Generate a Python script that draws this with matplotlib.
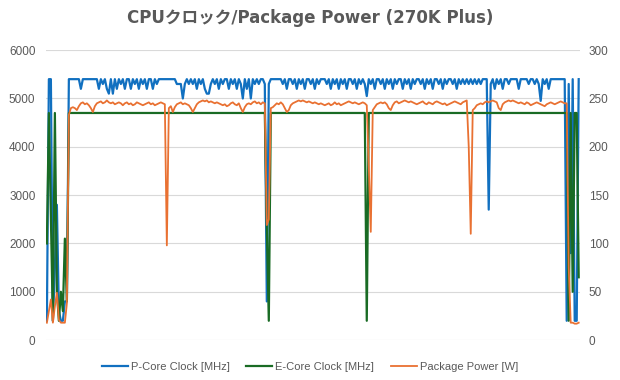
import matplotlib
matplotlib.use("Agg")
import matplotlib.pyplot as plt
import numpy as np

# P-Core clock [MHz]
p_core = [
    400, 5400, 5400, 400, 1500, 2800, 600, 400, 400, 800, 800, 5400,
    5400, 5400, 5400, 5400, 5400, 5200, 5400, 5400, 5400, 5400, 5400, 5400, 5400, 5400,
    5200, 5400, 5300, 5400, 5200, 5100, 5400, 5100, 5400, 5200,
    5400, 5300, 5400, 5200, 5400, 5400, 5200, 5400, 5300, 5400,
    5200, 5400, 5300, 5400, 5200, 5400, 5400, 5200, 5400, 5300, 5400,
    5400, 5400, 5400, 5400, 5400, 5400, 5400, 5400,
    5300, 5300, 5300, 5000, 5300, 5400, 5300,
    5400, 5300, 5400, 5200, 5400, 5300, 5400, 5200, 5100, 5100,
    5300, 5400, 5300, 5400, 5200, 5400, 5300, 5400, 5400, 5200,
    5400, 5300, 5400, 5200, 5400,
    5300, 5000, 5400, 5200, 5400, 5000,
    5400, 5300, 5400, 5300, 5400, 5400, 5300,
    800, 5300,
    5400, 5400, 5400, 5400, 5400, 5400,
    5300, 5400, 5200, 5400, 5400, 5300, 5400, 5200, 5400, 5300,
    5400, 5200, 5400, 5400, 5300, 5400, 5200, 5400, 5300, 5400,
    5400, 5400, 5300, 5400, 5200, 5400, 5300, 5400, 5200, 5400,
    5300, 5400, 5200, 5400, 5400, 5300, 5400, 5200, 5400, 5300,
    5400, 5300,
    5050,
    5400, 5300, 5400, 5200, 5400, 5400, 5300, 5400, 5200, 5400,
    5300, 5400, 5200, 5400, 5300, 5400, 5400, 5200, 5400, 5300,
    5400, 5200, 5400, 5300, 5400, 5400, 5300, 5400, 5200, 5400,
    5300, 5400, 5200, 5400, 5400, 5300, 5400, 5200, 5400, 5300,
    5400, 5400, 5300, 5400, 5200, 5400, 5300, 5400, 5300, 5400,
    5300, 5400, 5300, 5400, 5300, 5400, 5300, 5400, 5400, 5400,
    2700,
    5300, 5400, 5200, 5400, 5300, 5400, 5200, 5400, 5400, 5300,
    5400, 5400, 5400, 5400, 5200, 5400, 5400, 5400, 5400, 5300,
    5400, 5400, 5300, 5400, 5300,
    4950,
    5400, 5300, 5400, 5200, 5400,
    5400, 5400, 5400, 5400, 5400, 5400, 5400,
    400, 5300, 1800, 5400, 400, 400, 5400,
]

# E-Core clock [MHz]
e_core = (
    [2000, 4700, 2500, 400, 4700, 1000, 400, 1000, 600, 2100, 800, 4700]
    + [4700] * 98
    + [2300, 400]
    + [4700] * 48
    + [400]
    + [4700] * 100
    + [400, 4700, 1000, 4700, 4700, 1300]
)

# Package power [W]
package_power = [
    18, 30, 42, 18, 35, 49, 21, 18, 18, 18, 38, 233,
    240, 241, 240, 238, 242, 245, 246, 244, 245, 243, 240, 236, 242, 245,
    246, 247, 245, 246, 248, 246, 245, 246, 244, 245,
    246, 245, 243, 245, 246, 244, 245, 243, 244, 246,
    245, 244, 243, 244, 245, 246, 244, 245, 243, 244,
    245, 246, 245,
    244, 98, 240, 242, 236, 241,
    244, 245, 246, 244, 245, 244, 243, 240, 236, 240,
    244, 246, 247, 248, 247, 248, 246, 247, 246, 245,
    246, 245, 244, 243, 244, 242, 243, 245, 246, 244,
    243, 245, 240, 236, 241, 244, 245, 244, 246, 247,
    245, 246, 244, 246, 245,
    119, 125, 240,
    241, 243, 245, 244, 246, 244, 240, 236, 238, 243,
    245, 246, 247, 248, 247, 248, 247, 246, 247, 246,
    245, 246, 245, 244, 245, 244, 243, 244, 245, 243,
    244, 246, 244, 245, 243, 244, 245, 246, 247, 246,
    245, 246, 245, 244, 245, 246, 245,
    243, 180, 112, 238,
    241, 244, 245, 246, 245, 246, 244, 240, 238, 243,
    246, 247, 245, 246, 247, 248, 247, 246, 247, 246,
    245, 244, 245, 246, 247, 245, 244, 246, 245, 244,
    246, 247, 246, 245, 244, 245, 243, 244, 245, 246,
    247, 246, 245, 244, 246, 247, 248,
    200, 110, 238,
    240, 243, 244, 245, 244, 246, 247, 246, 247, 248,
    247, 246, 240, 238, 244, 246, 247, 248, 247, 248,
    247, 246, 245, 246, 245, 244, 246, 245, 243, 244,
    245, 246, 245, 244, 243, 242, 244, 245, 246, 245,
    244, 245, 246, 247, 246, 245,
    245, 75, 18, 18, 17, 17, 18,
]

labels = ["P-Core Clock [MHz]", "E-Core Clock [MHz]", "Package Power [W]"]
colors = ["#1170C0", "#196B24", "#E97132"]
title = "CPUクロック/Package Power (270K Plus)"

plt.rcParams['font.family'] = ['Liberation Sans', 'DejaVu Sans']
gray = "#595959"

fig = plt.figure(figsize=(6.2, 3.8), dpi=100)
ax = fig.add_axes([0.074, 0.105, 0.861, 0.763])
ax2 = ax.twinx()

l1, = ax.plot(np.arange(len(p_core)), p_core, color=colors[0], lw=1.6, label=labels[0])
l2, = ax.plot(np.arange(len(e_core)), e_core, color=colors[1], lw=1.6, label=labels[1])
l3, = ax2.plot(np.arange(len(package_power)), package_power, color=colors[2], lw=1.3, label=labels[2])

n = max(len(p_core), len(e_core), len(package_power))
for a in (ax, ax2):
    a.set_xlim(-0.5, n - 0.5)
    for s in a.spines.values():
        s.set_visible(False)
    a.tick_params(axis='both', length=0, labelsize=8.5, labelcolor=gray)
    a.set_xticks([])

ax.set_ylim(0, 6000)
ax.set_yticks(np.arange(0, 6001, 1000))
ax2.set_ylim(0, 300)
ax2.set_yticks(np.arange(0, 301, 50))
ax.tick_params(axis='y', pad=7.5)
ax2.tick_params(axis='y', pad=6.5)
ax.grid(True, axis='y', color="#d9d9d9", lw=0.8)
ax.set_axisbelow(True)

fig.text(0.5, 0.953, title, ha='center', va='center', fontsize=12, fontweight='bold',
         color=gray, family=['DejaVu Sans', 'Noto Sans CJK JP'])

fig.legend(handles=[l1, l2, l3], loc='center', bbox_to_anchor=(0.5, 0.035), ncol=3,
           frameon=False, fontsize=8, labelcolor=gray, handlelength=2.34,
           handletextpad=0.27, columnspacing=1.5)

fig.savefig("out.png", dpi=100)
